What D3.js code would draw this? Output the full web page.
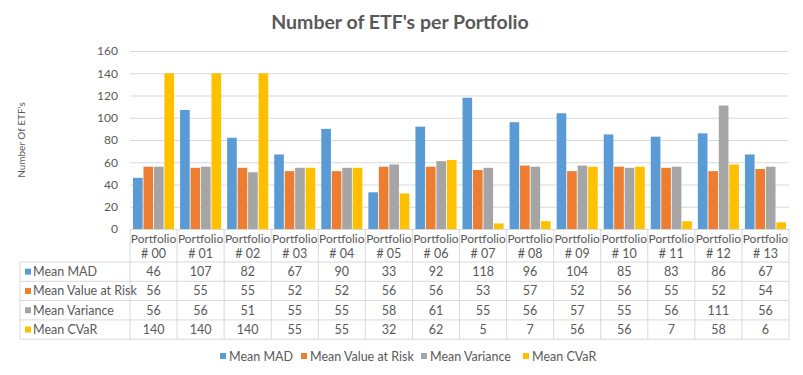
<!DOCTYPE html>
<html><head><meta charset="utf-8">
<script src="https://cdn.jsdelivr.net/npm/d3@7"></script>
<style>body{margin:0;background:#fff}svg{display:block}text{font-family:Lato,"Open Sans",sans-serif}</style>
</head><body><svg id="c" width="803" height="375"></svg>
<script>
const categories = ["00","01","02","03","04","05","06","07","08","09","10","11","12","13"];
const seriesNames = ["Mean MAD","Mean Value at Risk","Mean Variance","Mean CVaR"];
const meanMAD = [46,107,82,67,90,33,92,118,96,104,85,83,86,67];
const meanVaR = [56,55,55,52,52,56,56,53,57,52,56,55,52,54];
const meanVariance = [56,56,51,55,55,58,61,55,56,57,55,56,111,56];
const meanCVaR = [140,140,140,55,55,32,62,5,7,56,56,7,58,6];
const yTicks = [0,20,40,60,80,100,120,140,160];
const colors = ["#5B9BD5","#ED7D31","#A5A5A5","#FFC000"];
const series = [meanMAD, meanVaR, meanVariance, meanCVaR];

(function(){
const svg = d3.select("#c");
const txt = "#595959", grid = "#D9D9D9";
const pL = 130, pR = 789, pT = 51, pB = 229;
const x = d3.scaleBand().domain(categories).range([pL, pR]);
const xi = d3.scaleBand().domain(d3.range(4)).range([3, x.bandwidth()-3]).paddingInner(0.08);
const y = d3.scaleLinear().domain([0,160]).range([pB, pT]);

svg.append("text").attr("x",400).attr("y",29).attr("text-anchor","middle")
  .attr("font-size",19.5).attr("font-weight","bold").attr("fill",txt).text("Number of ETF's per Portfolio");

const yAxis = svg.append("g").attr("transform",`translate(${pL},0)`)
  .call(d3.axisLeft(y).tickValues(yTicks).tickSize(-(pR-pL)).tickPadding(12));
yAxis.select(".domain").remove();
yAxis.selectAll(".tick line").attr("stroke",grid);
yAxis.selectAll(".tick text").attr("fill",txt).attr("font-size",12).attr("font-family","Lato");

svg.append("text").attr("transform","translate(25,140) rotate(-90)").attr("text-anchor","middle")
  .attr("font-size",10).attr("fill",txt).text("Number Of ETF's");

series.forEach((vals,si)=>{
  svg.append("g").selectAll("rect").data(vals).join("rect")
    .attr("x",(d,i)=>x(categories[i])+xi(si)).attr("width",xi.bandwidth())
    .attr("y",d=>y(d)).attr("height",d=>y(0)-y(d)).attr("fill",colors[si]);
});

const rowH = 19.3, headB = 262, tLeft = 20;
const tb = svg.append("g");
const rowTops = d3.range(5).map(i=>headB+i*rowH);
tb.append("line").attr("x1",pL).attr("x2",pR).attr("y1",pB+0.5).attr("y2",pB+0.5).attr("stroke",grid);
rowTops.forEach(t=>tb.append("line").attr("x1",tLeft).attr("x2",pR).attr("y1",t).attr("y2",t).attr("stroke",grid));
categories.forEach(c=>tb.append("line").attr("x1",x(c)).attr("x2",x(c)).attr("y1",pB).attr("y2",rowTops[4]).attr("stroke",grid));
tb.append("line").attr("x1",pR).attr("x2",pR).attr("y1",pB).attr("y2",rowTops[4]).attr("stroke",grid);
tb.append("line").attr("x1",tLeft).attr("x2",tLeft).attr("y1",headB).attr("y2",rowTops[4]).attr("stroke",grid);
categories.forEach(c=>{
  const cx = x(c)+x.bandwidth()/2;
  tb.append("text").attr("x",cx).attr("y",243).attr("text-anchor","middle").attr("font-size",12).attr("fill",txt).text("Portfolio");
  tb.append("text").attr("x",cx).attr("y",258).attr("text-anchor","middle").attr("font-size",12.5).attr("fill",txt).text("# "+c);
});
series.forEach((vals,si)=>{
  const cy = rowTops[si]+rowH/2;
  tb.append("rect").attr("x",25).attr("y",cy-3).attr("width",6).attr("height",6).attr("fill",colors[si]);
  tb.append("text").attr("x",33).attr("y",cy+4.5).attr("font-size",12.5).attr("fill",txt).text(seriesNames[si]);
  vals.forEach((v,i)=>tb.append("text").attr("x",x(categories[i])+x.bandwidth()/2).attr("y",cy+4.5)
    .attr("text-anchor","middle").attr("font-size",12.5).attr("fill",txt).text(v));
});

const legX = [220,301,421,523];
seriesNames.forEach((n,i)=>{
  svg.append("rect").attr("x",legX[i]).attr("y",353).attr("width",6).attr("height",6).attr("fill",colors[i]);
  svg.append("text").attr("x",legX[i]+9).attr("y",360.5).attr("font-size",12.5).attr("fill",txt).text(n);
});
})();
</script></body></html>
